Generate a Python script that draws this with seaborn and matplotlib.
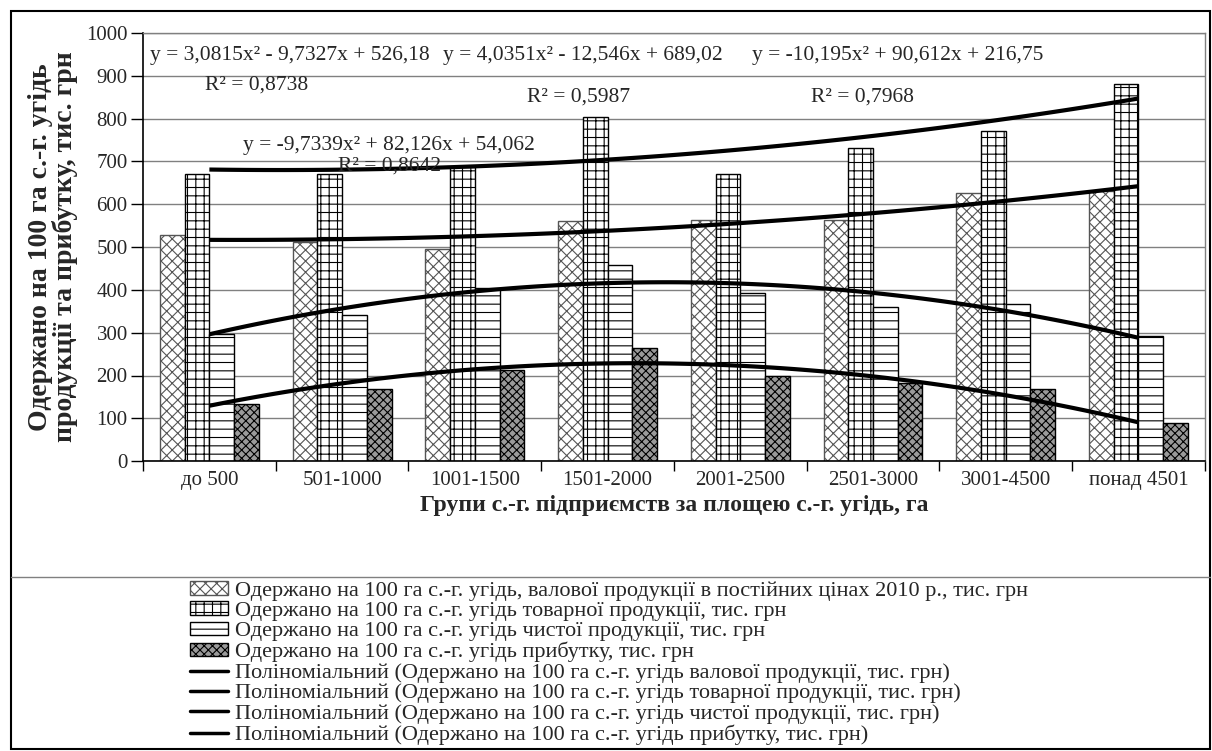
import matplotlib
matplotlib.use("Agg")
import matplotlib.pyplot as plt
from matplotlib.patches import Patch, Rectangle
from matplotlib.lines import Line2D
import numpy as np
import pandas as pd
import seaborn as sns

sns.set_theme(style="white")
plt.rcParams['font.family'] = ['Liberation Serif', 'DejaVu Serif']
plt.rcParams['hatch.linewidth'] = 0.8

# -------------------------------------------------------------------
# DATA
# -------------------------------------------------------------------
groups = ['до 500', '501-1000', '1001-1500', '1501-2000',
          '2001-2500', '2501-3000', '3001-4500', 'понад 4501']

gross = [528, 513, 496, 561, 564, 564, 627, 632]      # валова продукція
market = [670, 670, 688, 805, 670, 732, 772, 882]     # товарна продукція
net = [296, 341, 405, 459, 392, 359, 368, 292]        # чиста продукція
profit = [133, 168, 214, 265, 199, 182, 169, 89]      # прибуток

series_names = [
    'Одержано на 100 га с.-г. угідь, валової продукції в постійних цінах 2010 р., тис. грн',
    'Одержано на 100 га с.-г. угідь товарної продукції, тис. грн',
    'Одержано на 100 га с.-г. угідь чистої продукції, тис. грн',
    'Одержано на 100 га с.-г. угідь прибутку, тис. грн',
]
trend_names = [
    'Поліноміальний (Одержано на 100 га с.-г. угідь валової продукції, тис. грн)',
    'Поліноміальний (Одержано на 100 га с.-г. угідь товарної продукції, тис. грн)',
    'Поліноміальний (Одержано на 100 га с.-г. угідь чистої продукції, тис. грн)',
    'Поліноміальний (Одержано на 100 га с.-г. угідь прибутку, тис. грн)',
]

equations = ['y = 3,0815x² - 9,7327x + 526,18',
             'y = 4,0351x² - 12,546x + 689,02',
             'y = -10,195x² + 90,612x + 216,75',
             'y = -9,7339x² + 82,126x + 54,062']
r_squared = ['R² = 0,8738', 'R² = 0,5987', 'R² = 0,7968', 'R² = 0,8642']

df = pd.DataFrame({
    'group': groups * 4,
    'series': np.repeat(series_names, len(groups)),
    'value': gross + market + net + profit,
})

# -------------------------------------------------------------------
# PLOT
# -------------------------------------------------------------------
fig = plt.figure(figsize=(12.12, 7.51), dpi=100)
ax = fig.add_axes([0.118, 0.386, 0.876, 0.570])

sns.barplot(data=df, x='group', y='value', hue='series', order=groups,
            hue_order=series_names, palette=['white'] * 4, saturation=1,
            width=0.745, edgecolor='black', linewidth=1, legend=False, ax=ax)

# bar fills imitating the Excel patterns
styles = [
    dict(facecolor='white', edgecolor='#555555', hatch='xxx'),
    dict(facecolor='white', edgecolor='black', hatch='++'),
    dict(facecolor='white', edgecolor='black', hatch='--'),
    dict(facecolor='#9a9a9a', edgecolor='black', hatch='xxxx'),
]
for cont, st in zip(ax.containers, styles):
    for bar in cont:
        bar.set_facecolor(st['facecolor'])
        bar.set_edgecolor(st['edgecolor'])
        bar.set_hatch(st['hatch'])

# polynomial (order 2) trend lines
xs = np.arange(len(groups))
for vals in [gross, market, net, profit]:
    sns.regplot(x=xs, y=np.array(vals, dtype=float), order=2, ci=None,
                scatter=False, truncate=True, ax=ax,
                line_kws=dict(color='black', lw=3, solid_capstyle='butt'))

ax.set_xlim(-0.5, len(groups) - 0.5)
ax.set_ylim(0, 1000)
ax.set_yticks(np.arange(0, 1001, 100))
ax.set_xticks(xs)
ax.set_xticklabels(groups, fontsize=15)
ax.set_xticks(np.arange(-0.5, len(groups), 1), minor=True)
ax.tick_params(axis='y', left=True, length=9, width=1, color='black',
               direction='out', labelsize=15, pad=2)
ax.tick_params(axis='x', which='major', length=0, pad=7)
ax.tick_params(axis='x', which='minor', bottom=True, length=7, width=1,
               color='black', direction='out')

ax.yaxis.grid(True, color='#808080', lw=1)
ax.xaxis.grid(False)
ax.set_axisbelow(True)
for side in ['left', 'bottom']:
    ax.spines[side].set_color('black')
    ax.spines[side].set_linewidth(1.2)
for side in ['top', 'right']:
    ax.spines[side].set_color('#808080')
    ax.spines[side].set_linewidth(1)

ax.set_xlabel('Групи с.-г. підприємств за площею с.-г. угідь, га',
              fontsize=17, fontweight='bold', labelpad=4)
ax.set_ylabel('Одержано на 100 га с.-г. угідь\nпродукції та прибутку, тис. грн',
              fontsize=20, fontweight='bold', labelpad=6, linespacing=0.95)

# equation labels
eq_pos = [(-0.45, 948), (1.76, 948), (4.09, 948), (0.25, 738)]
r2_pos = [(-0.03, 878), (2.39, 850), (4.53, 850), (0.97, 690)]
for txt, (x, y) in zip(equations, eq_pos):
    ax.text(x, y, txt, fontsize=15.5, va='center', ha='left')
for txt, (x, y) in zip(r_squared, r2_pos):
    ax.text(x, y, txt, fontsize=15.5, va='center', ha='left')

# legend below the chart
handles = [Patch(**st, linewidth=1) for st in styles]
handles += [Line2D([0], [0], color='black', lw=2.5) for _ in trend_names]
fig.legend(handles, series_names + trend_names, loc='upper left',
           bbox_to_anchor=(0.157, 0.226), frameon=False, fontsize=16,
           handlelength=1.7, handleheight=0.55, handletextpad=0.3,
           labelspacing=0.03, borderaxespad=0, borderpad=0)

# outer frame and separator
fig.add_artist(Rectangle((0.009, 0.003), 0.989, 0.982, transform=fig.transFigure,
                         fill=False, edgecolor='black', lw=1.5))
fig.add_artist(Line2D([0.009, 0.998], [0.232, 0.232], transform=fig.transFigure,
                      color='#808080', lw=1))

plt.savefig('out.png', dpi=100)
